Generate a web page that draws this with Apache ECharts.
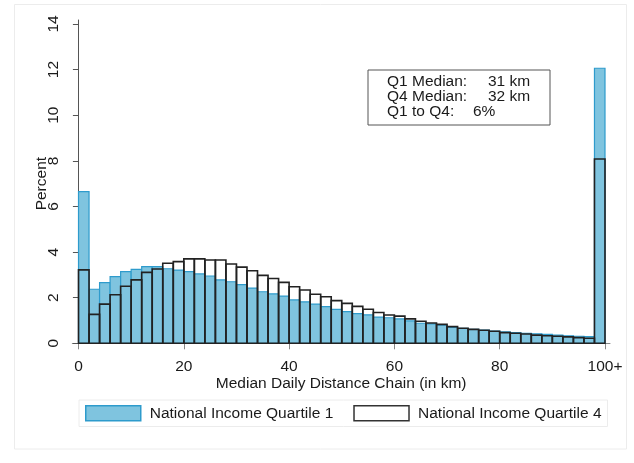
<!DOCTYPE html>
<html>
<head>
<meta charset="utf-8">
<script src="https://cdn.jsdelivr.net/npm/echarts@6/dist/echarts.min.js"></script>
<style>html,body{margin:0;padding:0;background:#fff}#c{width:634px;height:463px}</style>
</head>
<body>
<div id="c"></div>
<script>
// Histogram bins (km), width 2; last bin collects 100+
var BIN_WIDTH = 2;
var binStarts = [];
for (var b = 0; b < 100; b += BIN_WIDTH) binStarts.push(b);

// Percent per bin, National Income Quartile 1
var q1Values = [6.65, 2.37, 2.66, 2.92, 3.14, 3.24, 3.36, 3.36, 3.27, 3.21,
                3.14, 3.04, 2.95, 2.78, 2.70, 2.57, 2.42, 2.26, 2.17, 2.07,
                1.90, 1.82, 1.72, 1.61, 1.49, 1.39, 1.30, 1.25, 1.15, 1.12,
                1.07, 0.98, 0.88, 0.85, 0.80, 0.70, 0.66, 0.61, 0.58, 0.53,
                0.50, 0.47, 0.44, 0.42, 0.39, 0.36, 0.33, 0.31, 0.29, 12.06];
// Percent per bin, National Income Quartile 4
var q4Values = [3.22, 1.27, 1.72, 2.13, 2.50, 2.78, 3.11, 3.26, 3.51, 3.58,
                3.70, 3.70, 3.65, 3.65, 3.48, 3.34, 3.18, 2.98, 2.84, 2.67,
                2.48, 2.34, 2.15, 2.04, 1.87, 1.75, 1.62, 1.49, 1.35, 1.24,
                1.19, 1.07, 0.97, 0.89, 0.83, 0.73, 0.66, 0.61, 0.57, 0.53,
                0.47, 0.44, 0.41, 0.36, 0.33, 0.31, 0.28, 0.25, 0.22, 8.08];

var xTicks = [0, 20, 40, 60, 80, 100];
var xTickLabels = ['0', '20', '40', '60', '80', '100+'];
var yTicks = [0, 2, 4, 6, 8, 10, 12, 14];

var seriesNames = ['National Income Quartile 1', 'National Income Quartile 4'];
var statLabels = ['Q1 Median:', 'Q4 Median:', 'Q1 to Q4:'];
var statValues = ['31 km', '32 km', '6%'];

var FONT = '"Liberation Sans", Arial, sans-serif';
var FS = 15.5;
var TXT = '#1a1a1a';
var Q1_FILL = '#7fc4df';
var Q1_EDGE = '#2e9bcc';
var Q4_EDGE = '#222222';

function buildData(vals) {
  return binStarts.map(function (s, i) { return [s, s + BIN_WIDTH, vals[i]]; });
}

function makeRender(fill, stroke, lw) {
  return function (params, api) {
    var p0 = api.coord([api.value(0), 0]);
    var p1 = api.coord([api.value(1), api.value(2)]);
    return {
      type: 'rect',
      shape: { x: p0[0], y: p1[1], width: p1[0] - p0[0], height: p0[1] - p1[1] },
      style: { fill: fill, stroke: stroke, lineWidth: lw }
    };
  };
}

var chart = echarts.init(document.getElementById('c'), null, { renderer: 'canvas' });

var statGraphics = [{
  type: 'rect',
  shape: { x: 368, y: 70, width: 182, height: 55 },
  style: { fill: '#fff', stroke: '#555', lineWidth: 1 },
  z: 10
}];
statLabels.forEach(function (t, i) {
  statGraphics.push({
    type: 'text', x: 387, y: 82 + i * 15, z: 11,
    style: { text: t, fill: TXT, font: FS + 'px ' + FONT, verticalAlign: 'middle', align: 'left' }
  });
  statGraphics.push({
    type: 'text', x: (i < 2 ? 488 : 473), y: 82 + i * 15, z: 11,
    style: { text: statValues[i], fill: TXT, font: FS + 'px ' + FONT, verticalAlign: 'middle', align: 'left' }
  });
});

chart.setOption({
  animation: false,
  backgroundColor: '#fff',
  textStyle: { fontFamily: FONT },
  grid: { left: 72.3, right: 24, top: 20, bottom: 115.7, containLabel: false },
  graphic: [{
    type: 'rect', shape: { x: 14.5, y: 4.5, width: 612, height: 444.5 },
    style: { fill: 'none', stroke: '#ececec', lineWidth: 1 }, z: -1
  }].concat(statGraphics),
  legend: {
    left: 79, top: 400, width: 526,
    padding: [5, 6, 5, 6],
    borderColor: '#ececec', borderWidth: 1,
    itemWidth: 55, itemHeight: 15, itemGap: 20,
    textStyle: { fontSize: FS, color: TXT, fontFamily: FONT, padding: [0, 0, 0, 4] },
    data: [
      { name: seriesNames[0], icon: 'rect', itemStyle: { color: Q1_FILL, borderColor: Q1_EDGE, borderWidth: 1.5 } },
      { name: seriesNames[1], icon: 'rect', itemStyle: { color: '#ffffff', borderColor: '#333', borderWidth: 1.5 } }
    ]
  },
  xAxis: {
    type: 'value', min: -1.18, max: 100.95,
    name: 'Median Daily Distance Chain (in km)',
    nameLocation: 'middle', nameGap: 28, nameMoveOverlap: false,
    nameTextStyle: { fontSize: FS, color: TXT },
    axisLine: { lineStyle: { color: '#888', width: 1 } },
    axisTick: { show: true, length: 6, customValues: xTicks, lineStyle: { color: '#888' } },
    axisLabel: {
      customValues: xTicks, margin: 11, fontSize: FS, color: TXT,
      formatter: function (v) { var k = xTicks.indexOf(v); return k >= 0 ? xTickLabels[k] : ''; }
    },
    splitLine: { show: false }
  },
  yAxis: {
    type: 'value', min: -0.175, max: 14.175,
    name: 'Percent', nameLocation: 'middle', nameGap: 23, nameRotate: 90, nameMoveOverlap: false,
    nameTextStyle: { fontSize: FS, color: TXT },
    axisLine: { show: true, lineStyle: { color: '#555', width: 1 } },
    axisTick: { show: true, length: 5.6, customValues: yTicks, lineStyle: { color: '#555' } },
    axisLabel: { customValues: yTicks, rotate: 90, margin: 11, fontSize: FS, color: TXT },
    splitLine: { show: false }
  },
  series: [
    {
      name: seriesNames[0], type: 'custom',
      itemStyle: { color: Q1_FILL, borderColor: Q1_EDGE },
      encode: { x: [0, 1], y: 2 },
      renderItem: makeRender(Q1_FILL, Q1_EDGE, 1.2),
      data: buildData(q1Values), z: 2
    },
    {
      name: seriesNames[1], type: 'custom',
      itemStyle: { color: '#ffffff', borderColor: Q4_EDGE },
      encode: { x: [0, 1], y: 2 },
      renderItem: makeRender('none', Q4_EDGE, 1.6),
      data: buildData(q4Values), z: 3
    }
  ]
});
</script>
</body>
</html>
